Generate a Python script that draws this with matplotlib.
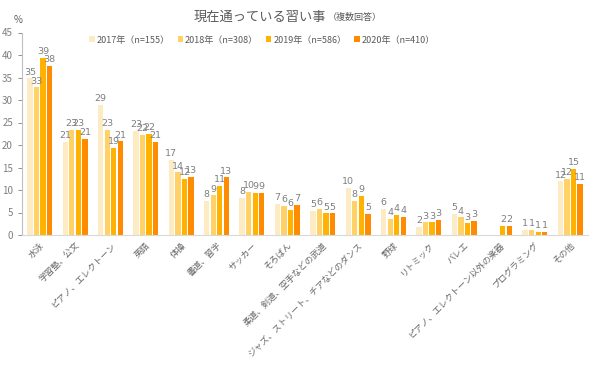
import numpy as np
import matplotlib
matplotlib.use("Agg")
import matplotlib.pyplot as plt

plt.rcParams['font.family'] = ['Noto Sans CJK JP', 'DejaVu Sans']

categories = ["水泳", "学習塾、公文", "ピアノ、エレクトーン", "英語", "体操", "書道、習字",
              "サッカー", "そろばん", "柔道、剣道、空手などの武道",
              "ジャズ、ストリート、チアなどのダンス", "野球", "リトミック", "バレエ",
              "ピアノ、エレクトーン以外の楽器", "プログラミング", "その他"]
series_names = ["2017年（n=155）", "2018年（n=308）", "2019年（n=586）", "2020年（n=410）"]
v2017 = [34.8, 20.6, 29.0, 23.1, 16.7, 7.6, 8.3, 6.9, 5.3, 10.4, 5.8, 1.8, 4.6, np.nan, 1.2, 11.9]
v2018 = [32.8, 23.4, 23.4, 22.3, 13.9, 8.8, 9.6, 6.5, 5.8, 7.5, 3.6, 2.8, 3.9, np.nan, 1.2, 12.5]
v2019 = [39.3, 23.4, 19.4, 22.5, 12.4, 11.0, 9.3, 5.5, 4.8, 8.7, 4.4, 2.8, 2.6, 2.1, 0.7, 14.7]
v2020 = [37.6, 21.4, 20.8, 20.7, 12.9, 12.8, 9.3, 6.7, 4.8, 4.6, 4.1, 3.3, 3.1, 2.1, 0.7, 11.4]
yticks = [0, 5, 10, 15, 20, 25, 30, 35, 40, 45]

colors = ["#FDEBC4", "#FFD166", "#FFB300", "#FF8C00"]
data = [v2017, v2018, v2019, v2020]

fig = plt.figure(figsize=(6, 3.68), dpi=100)
ax = fig.add_axes([22/600, 1-235/368, 566/600, 202.5/368])

x = np.arange(len(categories))
step = 0.185
width = 0.15
handles = []
for i, (vals, c) in enumerate(zip(data, colors)):
    pos = x + (i - 1.5) * step
    vals = np.array(vals, dtype=float)
    h = ax.bar(pos, vals, width=width, color=c, label=series_names[i], zorder=2)
    handles.append(h)
    for p, v in zip(pos, vals):
        if not np.isnan(v):
            ax.text(p, v + 0.4, f"{v:.0f}", ha='center', va='bottom', fontsize=6.8,
                    color='#7f7f7f', family='DejaVu Sans')

ax.set_xlim(-0.5, len(categories) - 0.5)
ax.set_ylim(0, 45)
ax.set_yticks(yticks)
ax.tick_params(axis='y', labelsize=7, colors='#7f7f7f', length=3, width=0.6, direction='out')
ax.set_xticks(x)
ax.set_xticklabels(categories, rotation=45, ha='right', rotation_mode='anchor',
                   fontsize=6.3, color='#666666')
ax.tick_params(axis='x', length=0, pad=4)
for s in ['top', 'right']:
    ax.spines[s].set_visible(False)
ax.spines['left'].set_color('#bfbfbf')
ax.spines['left'].set_linewidth(0.8)
ax.spines['bottom'].set_color('#d9d9d9')
ax.spines['bottom'].set_linewidth(0.8)

fig.text(18/600, 1-20/368, "%", fontsize=7, color='#595959', ha='center', va='center')
fig.text(326/600, 1-17/368, "現在通っている習い事", fontsize=9.5, color='#595959',
         ha='right', va='center')
fig.text(328/600, 1-17/368, "（複数回答）", fontsize=6.5, color='#595959',
         ha='left', va='center')

leg = fig.legend(handles=handles, labels=series_names, loc='center',
                 bbox_to_anchor=(262/600, 1-40/368), ncol=4, frameon=False,
                 fontsize=6.5, handlelength=0.6, handleheight=0.6, handletextpad=0.2,
                 columnspacing=0.9, labelcolor='#595959')

fig.savefig("out.png", dpi=100)
